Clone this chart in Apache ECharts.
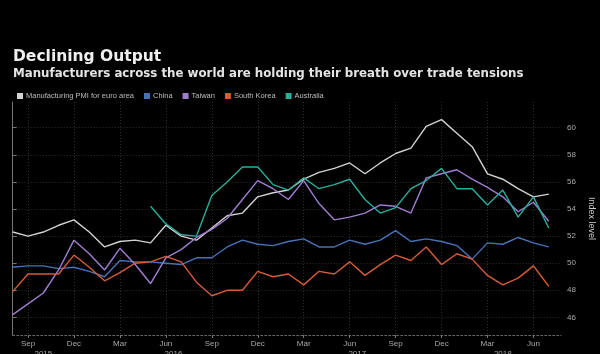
<!DOCTYPE html>
<html>
<head>
<meta charset="utf-8">
<script src="https://cdn.jsdelivr.net/npm/echarts@6/dist/echarts.min.js"></script>
<style>
  html, body { margin: 0; padding: 0; background: #000; }
  #chart { width: 600px; height: 354px; }
</style>
</head>
<body>
<div id="chart"></div>
<script>
// ---- Data (monthly, Aug 2015 – Jul 2018) ----
const months = [
  '2015-08','2015-09','2015-10','2015-11','2015-12',
  '2016-01','2016-02','2016-03','2016-04','2016-05','2016-06','2016-07','2016-08','2016-09','2016-10','2016-11','2016-12',
  '2017-01','2017-02','2017-03','2017-04','2017-05','2017-06','2017-07','2017-08','2017-09','2017-10','2017-11','2017-12',
  '2018-01','2018-02','2018-03','2018-04','2018-05','2018-06','2018-07'
];
const monthNames = ['Jan','Feb','Mar','Apr','May','Jun','Jul','Aug','Sep','Oct','Nov','Dec'];
const labelMonths = ['Sep','Dec','Mar','Jun'];

const euroArea = [52.3,52.0,52.3,52.8,53.2, 52.3,51.2,51.6,51.7,51.5,52.8,52.0,51.7,52.6,53.5,53.7,54.9,
  55.2,55.4,56.2,56.7,57.0,57.4,56.6,57.4,58.1,58.5,60.1,60.6, 59.6,58.6,56.6,56.2,55.5,54.9,55.1];
const china = [49.7,49.8,49.8,49.6,49.7, 49.4,49.0,50.2,50.1,50.1,50.0,49.9,50.4,50.4,51.2,51.7,51.4,
  51.3,51.6,51.8,51.2,51.2,51.7,51.4,51.7,52.4,51.6,51.8,51.6, 51.3,50.3,51.5,51.4,51.9,51.5,51.2];
const taiwan = [46.2,47.0,47.8,49.5,51.7, 50.7,49.5,51.1,49.9,48.5,50.4,51.0,51.9,52.5,53.3,54.7,56.1,
  55.5,54.7,56.1,54.4,53.2,53.4,53.7,54.3,54.2,53.7,56.3,56.6, 56.9,56.2,55.6,54.9,53.8,54.5,53.1];
const southKorea = [47.9,49.2,49.2,49.2,50.6, 49.7,48.7,49.3,50.0,50.1,50.5,50.1,48.6,47.6,48.0,48.0,49.4,
  49.0,49.2,48.4,49.4,49.2,50.1,49.1,49.9,50.6,50.2,51.2,49.9, 50.7,50.3,49.1,48.4,48.9,49.8,48.3];
const australia = [null,null,null,null,null, null,null,null,null,54.2,52.9,52.1,52.0,55.0,56.0,57.1,57.1,
  55.8,55.4,56.3,55.5,55.8,56.2,54.7,53.7,54.1,55.5,56.1,57.0, 55.5,55.5,54.3,55.4,53.4,54.9,52.6];

const seriesNames = ['Manufacturing PMI for euro area','China','Taiwan','South Korea','Australia'];
const seriesValues = [euroArea, china, taiwan, southKorea, australia];
const seriesColors = ['#d2d2d2','#4673b8','#a17dd2','#d65c38','#2aae9c'];
const yTicks = [46,48,50,52,54,56,58,60];

// ---- Derived helpers ----
const monthLabelIdx = months.map((m,i)=>i).filter(i => labelMonths.includes(monthNames[+months[i].slice(5)-1]));
const years = [...new Set(months.map(m => m.slice(0,4)))];
const yearCenters = years.map(y => {
  const idx = months.map((m,i)=>i).filter(i => months[i].startsWith(y));
  return (idx[0] + idx[idx.length-1]) / 2;
});
const xMax = months.length - 0.2;

const chart = echarts.init(document.getElementById('chart'), null, {renderer: 'canvas'});
const font = '"Liberation Sans", Arial, sans-serif';
const titleFont = '"DejaVu Sans", sans-serif';

chart.setOption({
  backgroundColor: '#000',
  animation: false,
  textStyle: { fontFamily: font },
  title: {
    text: 'Declining Output',
    subtext: 'Manufacturers across the world are holding their breath over trade tensions',
    left: 8, top: 44, itemGap: 3,
    textStyle: { color: '#f0f0f0', fontSize: 15.5, fontWeight: 'bold', fontFamily: titleFont },
    subtextStyle: { color: '#e4e4e4', fontSize: 11.8, fontWeight: 'bold', fontFamily: titleFont }
  },
  legend: {
    left: 12, top: 87, itemWidth: 6, itemHeight: 6, itemGap: 10, icon: 'rect',
    textStyle: { color: '#bdbdbd', fontSize: 7.5, fontFamily: font, padding: [0,0,0,-2] },
    data: seriesNames
  },
  grid: { left: 12.7, right: 39, top: 102, bottom: 19, containLabel: false, outerBoundsMode: 'none' },
  xAxis: [{
    type: 'value', min: 0, max: xMax, position: 'bottom',
    axisLine: { show: true, lineStyle: { color: '#666', type: [2,2], width: 1 } },
    axisTick: { show: true, customValues: monthLabelIdx, length: 3, lineStyle: { color: '#777' } },
    axisLabel: { customValues: monthLabelIdx, color: '#a8a8a8', fontSize: 8, margin: 5,
      formatter: v => monthNames[+months[Math.round(v)].slice(5)-1] },
    splitLine: { show: true, lineStyle: { color: '#2e2e2e', type: [1,2] } }
  }, {
    type: 'value', min: 0, max: xMax, position: 'bottom', offset: 10,
    axisLine: { show: false }, axisTick: { show: false }, splitLine: { show: false },
    axisLabel: { customValues: yearCenters, color: '#a8a8a8', fontSize: 8, margin: 5,
      formatter: v => years[yearCenters.indexOf(v)] }
  }],
  yAxis: {
    type: 'value', min: 44.7, max: 61.9, position: 'right',
    name: 'Index level', nameLocation: 'middle', nameRotate: -90, nameGap: 26,
    nameTextStyle: { color: '#cfcfcf', fontSize: 9 },
    axisLine: { show: true, lineStyle: { color: '#777', width: 1 } },
    axisTick: { show: true, customValues: yTicks, length: 4, lineStyle: { color: '#777' } },
    axisLabel: { customValues: yTicks, color: '#a8a8a8', fontSize: 8, margin: 6 },
    splitLine: { show: true, lineStyle: { color: '#2e2e2e', type: [1,2] } }
  },
  series: seriesNames.map((name, k) => ({
    name, type: 'line', xAxisIndex: 0, showSymbol: false, symbol: 'none',
    color: seriesColors[k],
    lineStyle: { width: 1.4, color: seriesColors[k] },
    data: seriesValues[k].map((v,i) => [i, v]),
    connectNulls: false
  }))
});
</script>
</body>
</html>
